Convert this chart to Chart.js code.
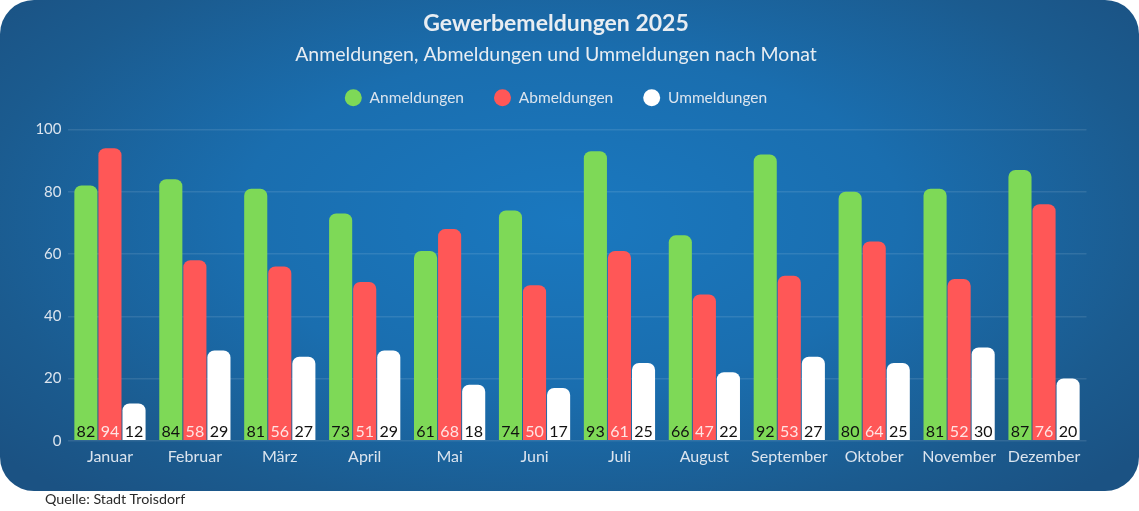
<!DOCTYPE html>
<html lang="de">
<head>
<meta charset="utf-8">
<title>Gewerbemeldungen 2025</title>
<script src="https://cdn.jsdelivr.net/npm/chart.js@4"></script>
<style>
    html, body {
        margin: 0;
        padding: 0;
        background: #ffffff;
        width: 1139px;
        height: 511px;
        overflow: hidden;
        font-family: Lato, "Open Sans", sans-serif;
    }
    .panel {
        position: absolute;
        left: 0;
        top: 0;
        width: 1139px;
        height: 491px;
        border-radius: 34px;
        background: radial-gradient(ellipse 65% 75% at 50% 45%, #1a78bf 0%, #1a6eaf 45%, #1b5b8f 80%, #1b5283 100%);
        overflow: hidden;
    }
    .source {
        position: absolute;
        left: 45px;
        top: 490px;
        font-size: 14.3px;
        color: #2a2a2a;
    }
</style>
</head>
<body>
<div class="panel">
    <canvas id="meldungenChart" width="1139" height="491"></canvas>
</div>
<div class="source">Quelle: Stadt Troisdorf</div>

<script>
// Monate
const months = ['Januar', 'Februar', 'März', 'April', 'Mai', 'Juni', 'Juli', 'August', 'September', 'Oktober', 'November', 'Dezember'];

// Werte je Serie
const anmeldungen = [82, 84, 81, 73, 61, 74, 93, 66, 92, 80, 81, 87];
const abmeldungen = [94, 58, 56, 51, 68, 50, 61, 47, 53, 64, 52, 76];
const ummeldungen = [12, 29, 27, 29, 18, 17, 25, 22, 27, 25, 30, 20];

// Y-Achse
const yTicks = [0, 20, 40, 60, 80, 100];

const FONT = 'Lato, "Open Sans", sans-serif';
const LIGHT_TEXT = '#dbe4ee';

/**
 * Draw the value of each bar at its foot
 */
const barValueLabels = {
    id: 'barValueLabels',
    afterDatasetsDraw(chart) {
        const ctx = chart.ctx;
        const yScale = chart.scales.y;
        const base = yScale.getPixelForValue(0);
        ctx.save();
        ctx.font = '16px ' + FONT;
        ctx.textAlign = 'center';
        ctx.textBaseline = 'alphabetic';
        chart.data.datasets.forEach((ds, i) => {
            const meta = chart.getDatasetMeta(i);
            ctx.fillStyle = ds.valueColor;
            meta.data.forEach((bar, j) => {
                ctx.fillText(String(ds.data[j]), bar.x, base - 4);
            });
        });
        ctx.restore();
    }
};

/**
 * Extra room between the legend and the plot
 */
const legendSpacing = {
    id: 'legendSpacing',
    beforeInit(chart) {
        const fit = chart.legend.fit;
        chart.legend.fit = function () {
            fit.bind(chart.legend)();
            this.height += 14;
        };
    }
};

const ctx = document.getElementById('meldungenChart').getContext('2d');

const barStyle = {
    borderRadius: { topLeft: 7, topRight: 7, bottomLeft: 0, bottomRight: 0 },
    borderSkipped: false,
    categoryPercentage: 0.85,
    barPercentage: 0.96
};

new Chart(ctx, {
    type: 'bar',
    data: {
        labels: months,
        datasets: [
            Object.assign({ label: 'Anmeldungen', data: anmeldungen, backgroundColor: '#7ed957', valueColor: '#111111' }, barStyle),
            Object.assign({ label: 'Abmeldungen', data: abmeldungen, backgroundColor: '#ff5757', valueColor: '#ffe4e4' }, barStyle),
            Object.assign({ label: 'Ummeldungen', data: ummeldungen, backgroundColor: '#ffffff', valueColor: '#111111' }, barStyle)
        ]
    },
    options: {
        responsive: false,
        animation: false,
        layout: {
            padding: { left: 25.5, right: 52.5, top: 0, bottom: 19 }
        },
        plugins: {
            title: {
                display: true,
                text: 'Gewerbemeldungen 2025',
                color: '#e8edf2',
                font: { family: FONT, size: 23, weight: 'bold' },
                padding: { top: 10, bottom: 5 }
            },
            subtitle: {
                display: true,
                text: 'Anmeldungen, Abmeldungen und Ummeldungen nach Monat',
                color: '#e8edf2',
                font: { family: FONT, size: 19.5 },
                padding: { top: 0, bottom: -6 }
            },
            legend: {
                display: true,
                labels: {
                    color: LIGHT_TEXT,
                    font: { family: FONT, size: 15.5 },
                    usePointStyle: true,
                    pointStyle: 'circle',
                    boxHeight: 12,
                    pointStyleWidth: 17,
                    padding: 30
                }
            },
            tooltip: { enabled: false }
        },
        scales: {
            x: {
                grid: { display: false, drawTicks: false },
                border: { display: false },
                ticks: {
                    color: LIGHT_TEXT,
                    font: { family: FONT, size: 16 },
                    padding: 6
                }
            },
            y: {
                min: 0,
                max: 100,
                afterBuildTicks: (axis) => {
                    axis.ticks = yTicks.map(v => ({ value: v }));
                },
                afterFit: (axis) => {
                    axis.width = 42;
                },
                grid: {
                    color: 'rgba(255, 255, 255, 0.10)',
                    lineWidth: 1.5,
                    drawTicks: false
                },
                border: { display: false },
                ticks: {
                    color: LIGHT_TEXT,
                    font: { family: FONT, size: 15 },
                    padding: 6
                }
            }
        }
    },
    plugins: [barValueLabels, legendSpacing]
});
</script>
</body>
</html>
